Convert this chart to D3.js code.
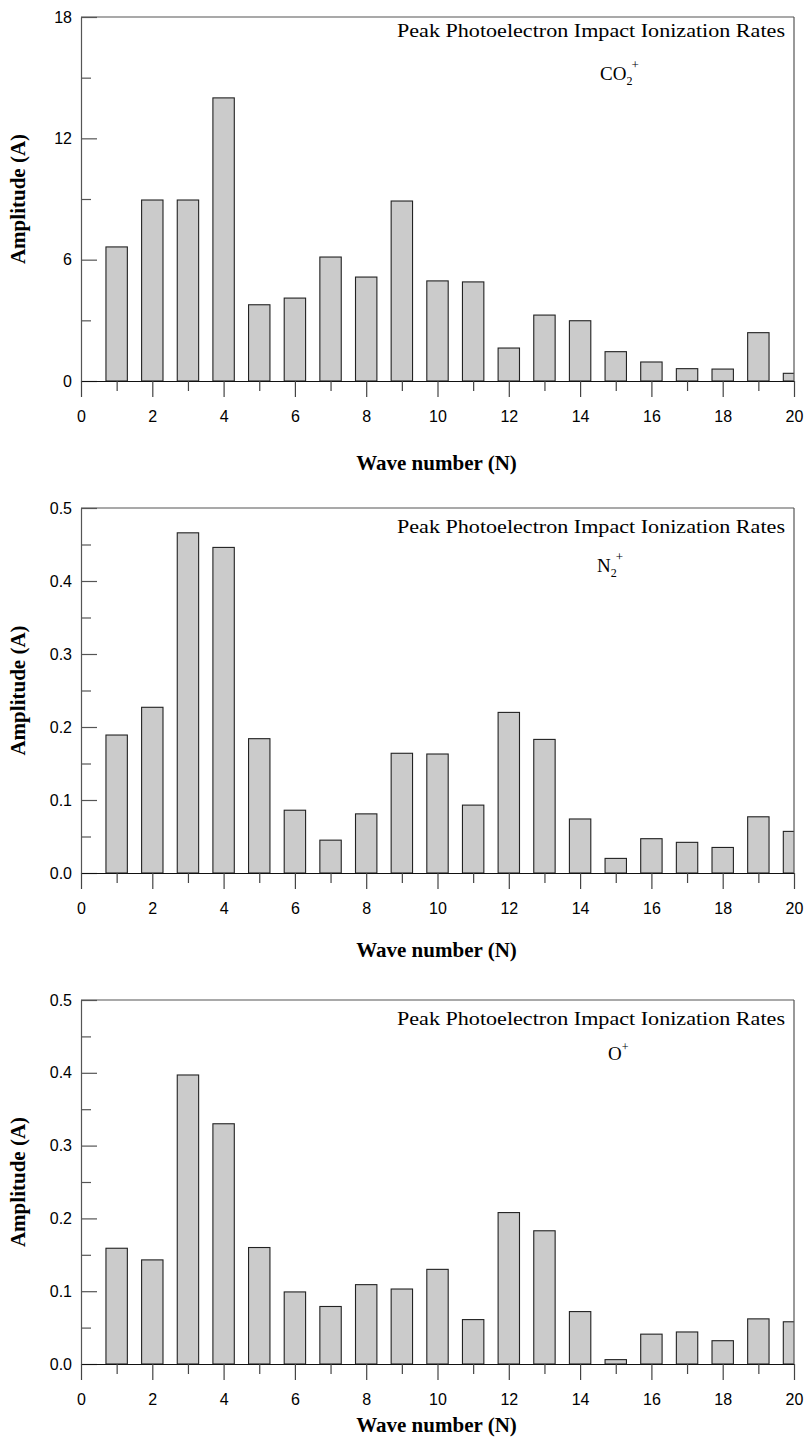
<!DOCTYPE html>
<html>
<head>
<meta charset="utf-8">
<script src="https://cdn.jsdelivr.net/npm/d3@7"></script>
<style>
  body { margin: 0; background: #fff; }
  .tick text { font-family: "Liberation Sans", Arial, sans-serif; font-size: 16px; fill: #000; }
</style>
</head>
<body>
<div id="chart"></div>
<script>
// wave numbers along the x axis
var waveNumbers = d3.range(1, 21);

// amplitudes
var co2Values = [6.63, 8.95, 8.95, 14.0, 3.77, 4.1, 6.13, 5.14, 8.9, 4.95,
                 4.9, 1.63, 3.26, 2.98, 1.45, 0.94, 0.61, 0.59, 2.39, 0.38];
var n2Values = [0.189, 0.227, 0.466, 0.446, 0.184, 0.086, 0.045, 0.081, 0.164, 0.163,
                0.093, 0.220, 0.183, 0.074, 0.020, 0.047, 0.042, 0.035, 0.077, 0.057];
var oValues = [0.159, 0.143, 0.397, 0.330, 0.160, 0.099, 0.079, 0.109, 0.103, 0.130,
               0.061, 0.208, 0.183, 0.072, 0.006, 0.041, 0.044, 0.032, 0.062, 0.058];

// tick values
var xMajorTicks = [0, 2, 4, 6, 8, 10, 12, 14, 16, 18, 20];
var xMinorTicks = [1, 3, 5, 7, 9, 11, 13, 15, 17, 19];
var co2MajorTicks = [0, 6, 12, 18];
var co2MinorTicks = [3, 9, 15];
var smallMajorTicks = [0.0, 0.1, 0.2, 0.3, 0.4, 0.5];
var smallMinorTicks = [0.05, 0.15, 0.25, 0.35, 0.45];

var width = 804, height = 1438;
var left = 81, right = 794;

var svg = d3.select("#chart").append("svg")
    .attr("width", width).attr("height", height)
    .attr("viewBox", [0, 0, width, height]);

var x = d3.scaleLinear().domain([0, 20]).range([left, right]);

var panels = [
  {top: 17, bottom: 381, max: 18, values: co2Values, major: co2MajorTicks, minor: co2MinorTicks,
   fmt: d3.format("d"), ion: "CO", sub: "2", titleY: 470, noteDy: 20, ionDy: 63, ionX: 600},
  {top: 508, bottom: 873, max: 0.5, values: n2Values, major: smallMajorTicks, minor: smallMinorTicks,
   fmt: d3.format(".1f"), ion: "N", sub: "2", titleY: 957, noteDy: 25, ionDy: 64, ionX: 597},
  {top: 1000, bottom: 1364, max: 0.5, values: oValues, major: smallMajorTicks, minor: smallMinorTicks,
   fmt: d3.format(".1f"), ion: "O", sub: null, titleY: 1432, noteDy: 25, ionDy: 60, ionX: 608}
];

panels.forEach(function(p, i) {
    var y = d3.scaleLinear().domain([0, p.max]).range([p.bottom, p.top]);
    var g = svg.append("g").attr("class", "panel");

    g.append("clipPath").attr("id", "clip" + i)
      .append("rect")
        .attr("x", left).attr("y", p.top)
        .attr("width", right - left).attr("height", p.bottom - p.top);

    // bars
    g.append("g").attr("clip-path", "url(#clip" + i + ")")
      .selectAll("rect")
      .data(waveNumbers)
      .enter().append("rect")
        .attr("x", function(d) { return x(d - 0.3); })
        .attr("width", x(0.6) - x(0))
        .attr("y", function(d, j) { return y(p.values[j]); })
        .attr("height", function(d, j) { return y(0) - y(p.values[j]); })
        .style("fill", "#cbcbcb")
        .style("stroke", "#222")
        .style("stroke-width", 1.1);

    // frame: top and right
    g.append("line")
        .attr("x1", left).attr("x2", right).attr("y1", p.top).attr("y2", p.top)
        .style("stroke", "#555").style("stroke-width", 1.2);
    g.append("line")
        .attr("x1", right).attr("x2", right).attr("y1", p.top).attr("y2", p.bottom)
        .style("stroke", "#555").style("stroke-width", 1.2);

    // y axis, ticks pointing inward
    g.append("g")
        .attr("transform", "translate(" + left + ",0)")
        .call(d3.axisLeft(y).tickValues(p.major).tickFormat(p.fmt)
            .tickSize(-16).tickSizeOuter(0).tickPadding(9))
        .call(function(a) { a.selectAll("line, path").style("stroke", "#555").style("stroke-width", 1.2); });
    g.append("g")
        .attr("transform", "translate(" + left + ",0)")
        .call(d3.axisLeft(y).tickValues(p.minor).tickFormat("")
            .tickSize(-10).tickSizeOuter(0))
        .call(function(a) {
            a.select(".domain").remove();
            a.selectAll("line").style("stroke", "#555").style("stroke-width", 1.2);
        });

    // x axis, ticks pointing down
    g.append("g")
        .attr("transform", "translate(0," + p.bottom + ")")
        .call(d3.axisBottom(x).tickValues(xMajorTicks).tickFormat(d3.format("d"))
            .tickSize(16).tickSizeOuter(0).tickPadding(14))
        .call(function(a) {
            a.select(".domain").style("stroke", "#111").style("stroke-width", 1.2);
            a.selectAll("line").style("stroke", "#444").style("stroke-width", 1.2);
        });
    g.append("g")
        .attr("transform", "translate(0," + p.bottom + ")")
        .call(d3.axisBottom(x).tickValues(xMinorTicks).tickFormat("")
            .tickSize(10).tickSizeOuter(0))
        .call(function(a) {
            a.select(".domain").remove();
            a.selectAll("line").style("stroke", "#444").style("stroke-width", 1.2);
        });

    // axis titles
    g.append("text")
        .attr("transform", "translate(25," + ((p.top + p.bottom) / 2) + ") rotate(-90)")
        .attr("text-anchor", "middle")
        .style("font-family", "'Liberation Serif', 'Times New Roman', serif")
        .style("font-weight", "bold")
        .style("font-size", "21px")
        .text("Amplitude (A)");

    g.append("text")
        .attr("x", (left + right) / 2 - 1)
        .attr("y", p.titleY)
        .attr("text-anchor", "middle")
        .style("font-family", "'Liberation Serif', 'Times New Roman', serif")
        .style("font-weight", "bold")
        .style("font-size", "21px")
        .text("Wave number (N)");

    // annotation
    g.append("text")
        .attr("x", 397)
        .attr("y", p.top + p.noteDy)
        .attr("textLength", 388)
        .attr("lengthAdjust", "spacingAndGlyphs")
        .style("font-family", "'Liberation Serif', 'Times New Roman', serif")
        .style("font-size", "19px")
        .text("Peak Photoelectron Impact Ionization Rates");

    var ion = g.append("text")
        .attr("x", p.ionX)
        .attr("y", p.top + p.ionDy)
        .style("font-family", "'Liberation Serif', 'Times New Roman', serif")
        .style("font-size", "19px");
    ion.append("tspan").text(p.ion);
    if (p.sub) {
        ion.append("tspan").attr("dy", 5).style("font-size", "12px").text(p.sub);
        ion.append("tspan").attr("dx", -1).attr("dy", -16).style("font-size", "13px").text("+");
    } else {
        ion.append("tspan").attr("dy", -9).style("font-size", "12px").text("+");
    }
});
</script>
</body>
</html>
